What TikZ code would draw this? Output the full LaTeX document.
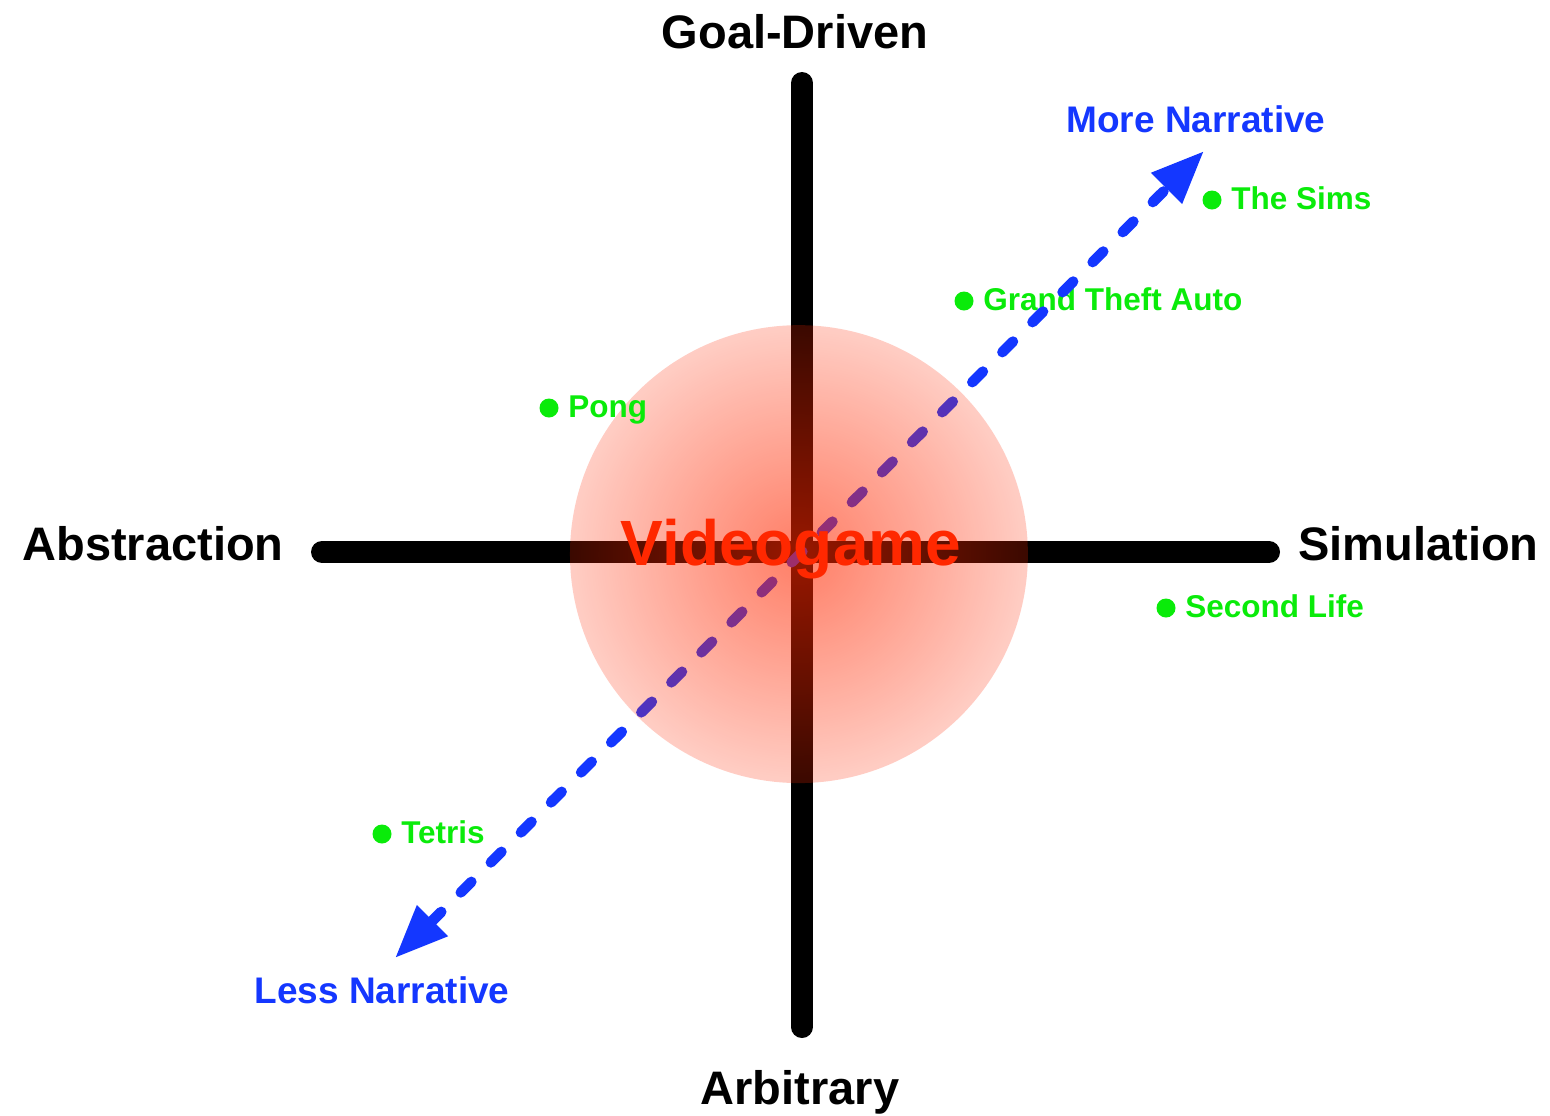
\documentclass[tikz,border=0pt]{standalone}
\usepackage{fontspec}
\setmainfont{Liberation Sans}
\usetikzlibrary{arrows.meta,positioning,fadings}

\definecolor{glowred}{RGB}{255,40,0}
\definecolor{narrblue}{RGB}{20,55,255}
\definecolor{gamegreen}{RGB}{10,235,10}

% radial fade for the centre blob, denser in the middle
\pgfdeclareradialshading{glowshading}{\pgfpointorigin}{%
  color(0bp)=(pgftransparent!40); color(25bp)=(pgftransparent!77);
  color(50bp)=(pgftransparent!77)}
\pgfdeclarefading{glow}{\pgfuseshading{glowshading}}

\begin{document}
\begin{tikzpicture}[x=0.5pt,y=-0.5pt,
    axis/.style={line width=11pt,line cap=round},
    axislabel/.style={font=\fontsize{23.5}{28}\selectfont\bfseries,inner sep=0pt},
    narrlabel/.style={font=\fontsize{18.5}{22}\selectfont\bfseries,text=narrblue,inner sep=0pt},
    gamedot/.style={circle,fill=gamegreen,inner sep=0pt,minimum size=9.5pt},
    gamelabel/.style={font=\fontsize{15.75}{19}\selectfont\bfseries,text=gamegreen,
        inner sep=0pt,text height=9.5pt,text depth=0pt}]
    \useasboundingbox (0,0) rectangle (1550,1115);

    % Draw axes
    \coordinate (goal) at (802,83);
    \coordinate (arb) at (802,1027);
    \coordinate (abst) at (322,552);
    \coordinate (simu) at (1269,552);
    \draw[axis] (goal) -- (arb);
    \draw[axis] (abst) -- (simu);

    % Example games
    \node[gamedot] (sims) at (1212,200) {};
    \node[gamelabel, right=4.5pt of sims] (simslabel) {The Sims};
    \node[gamedot] (gta) at (964,301) {};
    \node[gamelabel, right=4.5pt of gta] (gtalabel) {Grand Theft Auto};
    \node[gamedot] (sl) at (1166,608) {};
    \node[gamelabel, right=4.5pt of sl] (sllabel) {Second Life};
    \node[gamedot] (tetris) at (382,834) {};
    \node[gamelabel, right=4.5pt of tetris] (tetrislabel) {Tetris};

    % Narrative direction, dashed with heads at both ends
    \coordinate (less) at (395,958);
    \coordinate (more) at (1204,151);
    \draw[narrblue, line width=5.25pt, line cap=round,
        dash pattern=on 7.5pt off 13.75pt, {Triangle[length=26.5pt,width=20.5pt]}-{Triangle[length=26.5pt,width=20.5pt]}]
        (less) -- (more);

    % Glow in the middle, faded towards the rim
    \fill[glowred, path fading=glow] (799,554) circle (229);
    \node[font=\fontsize{32}{38}\selectfont\bfseries, text=glowred, inner sep=0pt, anchor=base]
        (vg) at (791,565) {Videogame};

    \node[gamedot] (pong) at (549,408) {};
    \node[gamelabel, right=4.5pt of pong] (ponglabel) {Pong};

    % Axis names
    \node[axislabel, anchor=base] at (795,48) {Goal-Driven};
    \node[axislabel, anchor=base] at (800,1104) {Arbitrary};
    \node[axislabel, anchor=base east] at (284,560) {Abstraction};
    \node[axislabel, anchor=base west] at (1298,560) {Simulation};
    \node[narrlabel, anchor=base] at (1196,132) {More Narrative};
    \node[narrlabel, anchor=base] at (382,1003) {Less Narrative};
\end{tikzpicture}
\end{document}
